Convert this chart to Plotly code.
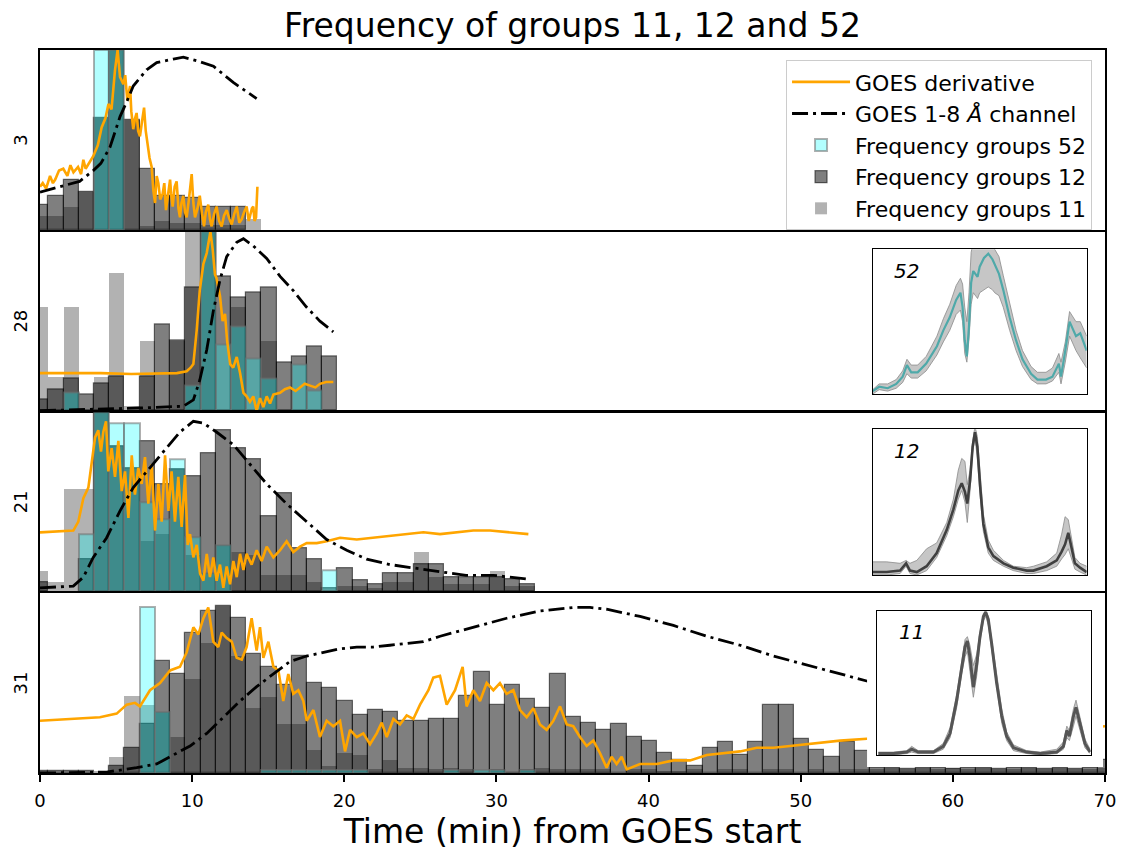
import numpy as np
import plotly.graph_objects as go

FONT = "DejaVu Sans"

# ---------------- histogram data (1-minute bins, bin k spans k-0.45 .. k+0.55 min) -------------
BIN_START = -0.45
BIN_WIDTH = 1.0

# panel "3"
p1_g11 = [0.08, 0.08, 0.13, 0.21, 0.62, 1.0, 0.61, 0.02, 0.05, 0.04, 0.04, 0.03, 0.03, 0.03, 0.06]
p1_g12 = [0.14, 0.19, 0.28, 0.21, 0.62, 1.0, 0.61, 0.34, 0.19, 0.19, 0.18, 0.13, 0.13, 0.13, None]
p1_g52 = [None, None, None, None, 1.0, 1.0, None, None, None, None, None, None, None, None, None]

# panel "28"
p2_g11 = [0.58, 0.19, 0.58, None, 0.19, 0.77, 0.03, 0.39, None, 0.39,
          1.0, 1.0, None, 0.58, None, 0.39, None, None, None, None]
p2_g12 = [0.06, 0.12, 0.18, 0.09, 0.15, 0.19, None, 0.19, 0.48, 0.39,
          0.69, 1.0, 0.75, 0.63, 0.66, 0.69, 0.27, 0.30, 0.36, 0.30]
p2_g52 = [None, None, 0.10, None, None, None, None, None, None, None,
          0.14, 1.0, 0.37, 0.47, 0.29, 0.18, None, 0.26, 0.11, None]

# panel "21"
p3_g11 = [0.11, 0.05, 0.57, 0.57, 1.0, 0.81, 0.69, 0.28, 0.32, 0.68,
          0.20, 0.10, 0.26, 0.22, 0.20, 0.09, 0.09, 0.09, 0.05, None,
          0.03, 0.03, 0.02, 0.05, 0.05, 0.22, 0.08, 0.04, 0.04, 0.04,
          0.11, 0.03, 0.03]
p3_g12 = [0.05, None, None, 0.18, 1.0, 0.81, 0.69, 0.84, 0.60, 0.68,
          0.64, 0.77, 0.90, 0.80, 0.74, 0.42, 0.55, 0.24, 0.18, 0.02,
          0.13, 0.06, 0.04, 0.10, 0.10, 0.15, 0.15, 0.08, 0.08, 0.08,
          0.08, 0.07, 0.04]
p3_g52 = [None, None, None, 0.32, 1.0, 0.94, 0.94, 0.50, 0.40, 0.74,
          0.30, 0.10, 0.26, None, None, None, None, None, None, 0.12,
          None, None, None, None, None, None, None, None, None, None,
          None, None, None]

# panel "31"
p4_g11 = [None, None, None, None, 0.01, 0.09, 0.43, 0.38, 0.34, 0.20,
          0.52, 0.72, 0.93, 0.65, 0.36, 0.42, 0.27, 0.27, 0.13, 0.04,
          0.11, 0.10, 0.02, 0.07, 0.03, 0.03, 0.02, 0.03, 0.02, None,
          0.02, None, 0.02, 0.03, 0.02, 0.02, 0.02, 0.02, None, 0.02,
          0.02, 0.01, 0.01, 0.02, None, 0.02, 0.02, None, 0.02, 0.02,
          None, 0.02, None, 0.02, 0.02, 0.02, 0.03, 0.02, 0.03, 0.02,
          0.03, 0.02, 0.03, 0.02, 0.02, 0.03, 0.02, 0.03, 0.02, 0.02,
          0.03]
p4_g12 = [0.01, 0.01, 0.01, 0.01, None, 0.04, 0.14, 0.27, 0.62, 0.55,
          0.78, 0.90, 0.93, 0.86, 0.66, 0.59, 0.49, 0.65, 0.50, 0.47,
          0.40, 0.32, 0.35, 0.34, 0.29, 0.29, 0.30, 0.30, 0.43, 0.56,
          0.38, 0.49, 0.41, 0.36, 0.55, 0.31, 0.28, 0.24, 0.27, 0.20,
          0.18, 0.11, 0.07, 0.04, 0.14, 0.17, 0.10, 0.17, 0.38, 0.38,
          0.19, 0.13, 0.09, 0.17, 0.12, 0.03, 0.03, 0.02, 0.03, 0.03,
          0.02, 0.03, 0.03, 0.02, 0.03, 0.03, 0.02, 0.03, 0.02, 0.03,
          0.07]
p4_g52 = [None, None, None, None, None, None, None, 0.92, 0.34, None,
          None, None, None, None, None, 0.015, 0.015, 0.015, 0.015, 0.015,
          0.015, 0.015, None, None, None, None, None, 0.015, None, 0.015,
          0.015, None, 0.015, None, None, None, None, None, None, None,
          None, None, None, None, None, None, None, None, None, None,
          None, None, None, None, None, None, None, None, None, None,
          None, None, None, None, None, None, None, None, None, None,
          None]

# ---------------- GOES curves (normalised per panel) ----------------
p1_deriv_t = [0.0, 0.18, 0.4, 0.66, 0.85, 1.0, 1.25, 1.53, 1.8, 2.0, 2.2, 2.5, 2.7, 2.85, 3.0, 3.2, 3.5,
              3.8, 4.05, 4.3, 4.5, 4.7, 4.93, 5.1, 5.26, 5.48, 5.6, 5.74, 5.92, 6.0, 6.13, 6.25, 6.35,
              6.45, 6.57, 6.7, 6.84, 6.95, 7.05, 7.2, 7.34, 7.45, 7.56, 7.67, 7.78, 7.9, 8.06, 8.17,
              8.28, 8.4, 8.55, 8.62, 8.72, 8.85, 8.98, 9.1, 9.2, 9.3, 9.42, 9.53, 9.64, 9.8, 9.97,
              10.08, 10.19, 10.35, 10.5, 10.65, 10.78, 10.9, 11.06, 11.17, 11.28, 11.45, 11.6, 11.77,
              11.94, 12.1, 12.27, 12.45, 12.6, 12.77, 12.93, 13.1, 13.26, 13.42, 13.58, 13.72, 13.85,
              13.93, 14.02, 14.1, 14.2, 14.29]
p1_deriv_v = [0.24, 0.26, 0.23, 0.30, 0.26, 0.28, 0.33, 0.34, 0.30, 0.36, 0.32, 0.35, 0.31, 0.39, 0.34,
              0.37, 0.41, 0.47, 0.57, 0.62, 0.70, 0.67, 0.89, 1.0, 0.85, 0.81, 0.86, 0.72, 0.80, 0.66,
              0.56, 0.62, 0.65, 0.55, 0.52, 0.60, 0.68, 0.55, 0.48, 0.40, 0.35, 0.22, 0.15, 0.30, 0.26,
              0.17, 0.20, 0.26, 0.11, 0.19, 0.28, 0.20, 0.13, 0.24, 0.27, 0.12, 0.07, 0.15, 0.19, 0.10,
              0.07, 0.18, 0.31, 0.15, 0.07, 0.12, 0.19, 0.09, 0.02, 0.10, 0.14, 0.06, 0.02, 0.09, 0.13,
              0.05, 0.02, 0.08, 0.11, 0.06, 0.03, 0.09, 0.13, 0.04, 0.06, 0.10, 0.13, 0.05, 0.09, 0.12,
              0.13, 0.05, 0.07, 0.24]
p1_flux_t = [0, 1.3, 2.6, 3.5, 4.0, 4.6, 5.26, 5.74, 6.13, 7.01, 7.67, 8.76, 9.42, 10.3, 11.4, 12.7, 14.24]
p1_flux_v = [0.21, 0.24, 0.27, 0.33, 0.37, 0.46, 0.63, 0.72, 0.80, 0.89, 0.93, 0.95, 0.96, 0.94, 0.91,
             0.82, 0.73]

p2_deriv_t = [0, 2, 4, 6, 8, 9.0, 9.64, 9.9, 10.08, 10.3, 10.5, 10.74, 10.96, 11.06, 11.2, 11.35, 11.5,
              11.6, 11.83, 12.0, 12.16, 12.3, 12.5, 12.7, 12.93, 13.15, 13.37, 13.58, 13.8, 14.02,
              14.24, 14.46, 14.68, 14.9, 15.12, 15.34, 15.78, 16.1, 16.43, 16.8, 17.09, 17.4, 17.75,
              18.1, 18.4, 18.8, 19.28]
p2_deriv_v = [0.21, 0.21, 0.21, 0.205, 0.21, 0.21, 0.22, 0.24, 0.26, 0.45, 0.67, 0.82, 0.88, 0.94, 1.0,
              0.90, 0.76, 0.74, 0.64, 0.50, 0.54, 0.39, 0.26, 0.24, 0.30, 0.21, 0.10, 0.08, 0.05, 0.08,
              0.0, 0.07, 0.02, 0.08, 0.04, 0.09, 0.10, 0.12, 0.13, 0.11, 0.13, 0.15, 0.14, 0.13, 0.15,
              0.16, 0.16]
p2_flux_t = [0, 3, 6.57, 9.42, 10.08, 10.5, 10.96, 11.4, 11.83, 12.27, 12.93, 13.37, 14.02, 14.9, 15.78,
             16.65, 17.5, 18.4, 19.28]
p2_flux_v = [0.0, 0.005, 0.015, 0.025, 0.06, 0.17, 0.34, 0.56, 0.73, 0.86, 0.94, 0.96, 0.92, 0.85, 0.75,
             0.67, 0.58, 0.50, 0.44]

p3_deriv_t = [0, 2.19, 2.52, 2.85, 3.18, 3.40, 3.62, 3.83, 4.01, 4.16, 4.34, 4.49, 4.71, 4.93, 5.15,
              5.37, 5.59, 5.81, 6.03, 6.24, 6.46, 6.68, 6.90, 7.12, 7.34, 7.56, 7.78, 8.00, 8.22, 8.44,
              8.65, 8.87, 9.09, 9.31, 9.53, 9.71, 9.86, 10.08, 10.30, 10.52, 10.74, 10.96, 11.17, 11.39,
              11.61, 11.83, 12.05, 12.27, 12.49, 12.71, 12.93, 13.15, 13.37, 13.58, 13.91, 14.24, 14.57,
              14.90, 15.34, 15.78, 16.21, 16.65, 17.09, 17.53, 18.19, 18.84, 19.72, 20.82, 21.91, 23.01,
              24.10, 25.20, 26.29, 27.39, 28.48, 29.58, 30.67, 32.10]
p3_deriv_v = [0.33, 0.34, 0.39, 0.52, 0.58, 0.73, 0.86, 0.90, 0.78, 0.89, 0.95, 0.67, 0.80, 0.64, 0.84,
              0.56, 0.67, 0.41, 0.76, 0.54, 0.69, 0.60, 0.75, 0.49, 0.71, 0.34, 0.60, 0.39, 0.76, 0.45,
              0.67, 0.39, 0.64, 0.36, 0.65, 0.26, 0.32, 0.19, 0.26, 0.10, 0.06, 0.21, 0.08, 0.19, 0.06,
              0.15, 0.02, 0.14, 0.04, 0.17, 0.08, 0.21, 0.12, 0.21, 0.15, 0.23, 0.17, 0.25, 0.19, 0.23,
              0.28, 0.22, 0.25, 0.27, 0.27, 0.28, 0.30, 0.29, 0.30, 0.31, 0.32, 0.33, 0.32, 0.33, 0.34,
              0.34, 0.33, 0.32]
p3_flux_t = [0, 2.19, 2.85, 3.5, 4.38, 5.26, 6.13, 7.23, 8.33, 9.2, 10.08, 10.74, 11.6, 12.7, 13.8, 14.9,
             16.2, 17.53, 18.84, 20.16, 21.47, 23.0, 24.5, 26.3, 28.0, 29.8, 32.0]
p3_flux_v = [0.02, 0.03, 0.08, 0.19, 0.30, 0.45, 0.58, 0.69, 0.80, 0.89, 0.95, 0.94, 0.89, 0.82, 0.71,
             0.60, 0.49, 0.39, 0.29, 0.23, 0.18, 0.15, 0.13, 0.11, 0.09, 0.09, 0.07]

p4_deriv_t = [0, 1.97, 3.94, 5.04, 5.70, 6.24, 6.57, 7.23, 7.89, 8.55, 9.20, 9.64, 10.08, 10.41, 10.74,
              11.06, 11.39, 11.72, 11.94, 12.27, 12.60, 12.93, 13.26, 13.58, 13.91, 14.24, 14.46, 14.68,
              15.01, 15.34, 15.67, 15.99, 16.32, 16.65, 16.98, 17.31, 17.53, 17.97, 18.40, 18.84, 19.28,
              19.72, 20.05, 20.38, 20.82, 21.25, 21.69, 22.13, 22.46, 22.79, 23.23, 23.66, 24.10, 24.54,
              24.98, 25.53, 25.85, 26.29, 26.73, 27.28, 27.78, 28.04, 28.48, 28.92, 29.36, 29.80, 30.23,
              30.67, 31.11, 31.55, 31.99, 32.43, 32.86, 33.30, 33.74, 34.18, 34.62, 35.05, 35.49, 35.93,
              36.37, 36.81, 37.24, 37.57, 37.90, 38.23, 38.56, 39.44, 40.54, 41.63, 42.73, 43.83, 44.92,
              46.02, 47.11, 48.21, 49.30, 50.40, 51.50, 52.59, 54.35, 58.0, 62.0, 66.0, 70.0]
p4_deriv_v = [0.29, 0.30, 0.31, 0.33, 0.38, 0.39, 0.37, 0.46, 0.50, 0.57, 0.59, 0.67, 0.81, 0.77, 0.86,
              0.92, 0.73, 0.70, 0.78, 0.75, 0.73, 0.64, 0.63, 0.70, 0.86, 0.68, 0.81, 0.64, 0.73, 0.59,
              0.57, 0.40, 0.55, 0.44, 0.46, 0.40, 0.29, 0.35, 0.20, 0.29, 0.26, 0.29, 0.12, 0.24, 0.20,
              0.22, 0.16, 0.22, 0.28, 0.20, 0.30, 0.27, 0.32, 0.30, 0.38, 0.46, 0.53, 0.54, 0.38, 0.46,
              0.59, 0.37, 0.46, 0.40, 0.50, 0.46, 0.50, 0.44, 0.46, 0.35, 0.31, 0.36, 0.27, 0.24, 0.29,
              0.37, 0.27, 0.26, 0.20, 0.15, 0.18, 0.11, 0.03, 0.09, 0.05, 0.09, 0.02, 0.05, 0.05, 0.07,
              0.07, 0.10, 0.11, 0.12, 0.14, 0.14, 0.15, 0.16, 0.17, 0.18, 0.19, 0.21, 0.22, 0.24, 0.26]
p4_flux_t = [0, 4.38, 6.35, 7.67, 8.76, 9.86, 10.96, 12.05, 13.15, 14.24, 15.34, 16.43, 17.53, 18.62,
             19.72, 20.82, 21.9, 23.0, 24.1, 25.2, 26.3, 27.6, 28.48, 30.67, 32.86, 35.05, 36.15, 37.24,
             39.44, 41.63, 43.83, 46.02, 48.21, 50.4, 52.6, 54.4, 58.0, 62.0]
p4_flux_v = [0.0, 0.005, 0.03, 0.05, 0.10, 0.15, 0.22, 0.31, 0.40, 0.48, 0.55, 0.62, 0.65, 0.67, 0.69,
             0.70, 0.70, 0.71, 0.72, 0.73, 0.76, 0.79, 0.81, 0.86, 0.90, 0.92, 0.92, 0.91, 0.87, 0.82,
             0.76, 0.71, 0.65, 0.60, 0.55, 0.51, 0.45, 0.39]

panel_labels = ["3", "28", "21", "31"]

# ---------------- inset spectra (normalised intensity vs channel) ----------------
ins52_x = [0, 3, 7, 11, 14, 16, 18, 21, 25, 30, 33, 36, 39, 41, 42, 43, 44, 45, 46, 47, 49, 50, 52, 54,
           56, 57, 59, 61, 64, 67, 70, 74, 77, 81, 84, 87, 88, 90, 92, 95, 97, 100]
ins52_mean = [0.02, 0.05, 0.04, 0.07, 0.12, 0.20, 0.15, 0.15, 0.21, 0.33, 0.44, 0.53, 0.65, 0.70, 0.60,
              0.37, 0.26, 0.47, 0.77, 0.85, 0.81, 0.88, 0.94, 0.97, 0.93, 0.90, 0.83, 0.72, 0.53, 0.37,
              0.24, 0.14, 0.10, 0.10, 0.12, 0.21, 0.12, 0.30, 0.50, 0.40, 0.42, 0.30]
ins52_hi = [0.03, 0.07, 0.07, 0.10, 0.16, 0.24, 0.20, 0.20, 0.26, 0.40, 0.52, 0.62, 0.75, 0.80, 0.76,
            0.60, 0.50, 0.70, 0.98, 1.05, 1.05, 1.05, 1.05, 1.05, 1.05, 1.0, 0.95, 0.82, 0.62, 0.44,
            0.30, 0.19, 0.15, 0.15, 0.18, 0.28, 0.22, 0.36, 0.57, 0.50, 0.50, 0.40]
ins52_lo = [0.0, 0.03, 0.02, 0.04, 0.08, 0.14, 0.11, 0.11, 0.16, 0.27, 0.36, 0.44, 0.55, 0.58, 0.50,
            0.28, 0.22, 0.38, 0.62, 0.70, 0.66, 0.70, 0.72, 0.74, 0.72, 0.70, 0.68, 0.60, 0.44, 0.30,
            0.19, 0.10, 0.07, 0.07, 0.09, 0.15, 0.07, 0.22, 0.40, 0.30, 0.25, 0.18]

ins12_x = [0, 6.5, 12.8, 15.6, 17.4, 20.6, 25.2, 29.9, 34.6, 37.7, 40.0, 41.6, 43.1, 44.2, 45.5, 46.7,
           47.8, 48.9, 50.2, 51.7, 54.0, 56.4, 61.1, 65.7, 72.0, 75.1, 81.3, 86.0, 88.3, 89.9, 91.4,
           93.0, 94.5, 96.9, 100]
ins12_mean = [0.02, 0.02, 0.03, 0.08, 0.03, 0.02, 0.06, 0.15, 0.31, 0.45, 0.58, 0.63, 0.57, 0.49, 0.65,
              0.88, 0.98, 0.88, 0.61, 0.35, 0.19, 0.13, 0.08, 0.05, 0.03, 0.03, 0.06, 0.10, 0.16, 0.21,
              0.29, 0.17, 0.08, 0.05, 0.02]
ins12_hi = [0.09, 0.09, 0.08, 0.10, 0.08, 0.10, 0.18, 0.22, 0.36, 0.52, 0.72, 0.80, 0.78, 0.62, 0.72,
            0.92, 1.02, 0.95, 0.70, 0.42, 0.24, 0.17, 0.10, 0.06, 0.05, 0.06, 0.09, 0.15, 0.28, 0.40,
            0.38, 0.25, 0.12, 0.08, 0.06]
ins12_lo = [0.0, 0.0, 0.01, 0.06, 0.01, 0.0, 0.03, 0.12, 0.27, 0.40, 0.52, 0.58, 0.50, 0.36, 0.58, 0.84,
            0.94, 0.80, 0.54, 0.30, 0.15, 0.10, 0.06, 0.03, 0.01, 0.01, 0.03, 0.06, 0.11, 0.14, 0.18,
            0.10, 0.04, 0.02, 0.0]

ins11_x = [0.5, 7.5, 13.8, 16.1, 19.2, 26.3, 30.9, 34.1, 37.2, 39.5, 41.1, 42.2, 43.4, 45.0, 46.6, 48.1,
           49.7, 50.8, 52.0, 53.6, 55.9, 58.3, 60.6, 63.8, 70.0, 76.3, 84.1, 87.2, 88.8, 90.0, 91.9,
           93.1, 95.0, 97.3, 99.7]
ins11_mean = [0.01, 0.01, 0.02, 0.04, 0.02, 0.02, 0.06, 0.15, 0.38, 0.61, 0.75, 0.79, 0.68, 0.47, 0.63,
              0.82, 0.96, 0.99, 0.94, 0.77, 0.50, 0.27, 0.13, 0.05, 0.02, 0.01, 0.02, 0.06, 0.17, 0.13,
              0.27, 0.33, 0.22, 0.08, 0.02]
ins11_hi = [0.02, 0.02, 0.03, 0.06, 0.03, 0.03, 0.08, 0.19, 0.42, 0.65, 0.80, 0.82, 0.76, 0.62, 0.70,
            0.85, 0.98, 1.0, 0.96, 0.80, 0.55, 0.32, 0.16, 0.07, 0.03, 0.02, 0.04, 0.09, 0.20, 0.17,
            0.32, 0.38, 0.26, 0.11, 0.04]
ins11_lo = [0.0, 0.0, 0.01, 0.02, 0.01, 0.01, 0.04, 0.12, 0.33, 0.56, 0.68, 0.72, 0.58, 0.40, 0.55, 0.78,
            0.93, 0.96, 0.90, 0.72, 0.45, 0.22, 0.10, 0.03, 0.01, 0.0, 0.01, 0.04, 0.12, 0.10, 0.20,
            0.27, 0.17, 0.05, 0.01]

# ---------------- styling ----------------
C11 = "rgba(0,0,0,0.3)"
C12 = "rgba(0,0,0,0.5)"
C52 = "rgba(0,255,255,0.3)"
ORANGE = "#FFA500"
DASHDOT = "16px,5px,3px,5px"
LW = 1.6

panels = [
    (p1_g11, p1_g12, p1_g52, p1_deriv_t, p1_deriv_v, p1_flux_t, p1_flux_v),
    (p2_g11, p2_g12, p2_g52, p2_deriv_t, p2_deriv_v, p2_flux_t, p2_flux_v),
    (p3_g11, p3_g12, p3_g52, p3_deriv_t, p3_deriv_v, p3_flux_t, p3_flux_v),
    (p4_g11, p4_g12, p4_g52, p4_deriv_t, p4_deriv_v, p4_flux_t, p4_flux_v),
]

fig = go.Figure()
for i, (g11, g12, g52, dt, dv, ft, fv) in enumerate(panels):
    xa = "x" if i == 0 else f"x{i+1}"
    ya = "y" if i == 0 else f"y{i+1}"
    centres = BIN_START + BIN_WIDTH / 2 + np.arange(len(g12)) * BIN_WIDTH
    first = (i == 0)
    fig.add_trace(go.Bar(x=centres, y=g11, width=BIN_WIDTH, xaxis=xa, yaxis=ya,
                         marker=dict(color=C11, line=dict(width=0)),
                         name="Frequency groups 11", legendrank=5, showlegend=first))
    fig.add_trace(go.Bar(x=centres, y=g12, width=BIN_WIDTH, xaxis=xa, yaxis=ya,
                         marker=dict(color=C12, line=dict(color="rgba(0,0,0,0.55)", width=1.2)),
                         name="Frequency groups 12", legendrank=4, showlegend=first))
    fig.add_trace(go.Bar(x=centres, y=g52, width=BIN_WIDTH, xaxis=xa, yaxis=ya,
                         marker=dict(color=C52, line=dict(color="rgba(110,110,110,0.55)", width=2)),
                         name="Frequency groups 52", legendrank=3, showlegend=first))
    fig.add_trace(go.Scatter(x=dt, y=dv, mode="lines", xaxis=xa, yaxis=ya,
                             line=dict(color=ORANGE, width=2.6),
                             name="GOES derivative", legendrank=1, showlegend=first))
    fig.add_trace(go.Scatter(x=ft, y=fv, mode="lines", xaxis=xa, yaxis=ya,
                             line=dict(color="black", width=2.8, dash=DASHDOT),
                             name="GOES 1-8 <i>Å</i> channel", legendrank=2, showlegend=first))

# white backing patch behind the bottom inset (inset bbox incl. padding)
fig.add_trace(go.Scatter(x=[54.36, 69.87, 69.87, 54.36, 54.36], y=[0.033, 0.033, 0.995, 0.995, 0.033],
                         mode="lines", fill="toself", fillcolor="white", line=dict(width=0),
                         xaxis="x4", yaxis="y4", showlegend=False, hoverinfo="skip"))

insets = [
    ("x5", "y5", ins52_x, ins52_hi, ins52_lo, ins52_mean, "#4fa9a9", 2.2),
    ("x6", "y6", ins12_x, ins12_hi, ins12_lo, ins12_mean, "#404040", 2.6),
    ("x7", "y7", ins11_x, ins11_hi, ins11_lo, ins11_mean, "#555555", 3.0),
]
for xa, ya, sx, hi, lo, mean, col, w in insets:
    fig.add_trace(go.Scatter(x=sx, y=hi, mode="lines", xaxis=xa, yaxis=ya,
                             line=dict(color="#8a8a8a", width=0.8), showlegend=False))
    fig.add_trace(go.Scatter(x=sx, y=lo, mode="lines", xaxis=xa, yaxis=ya, fill="tonexty",
                             fillcolor="rgba(128,128,128,0.45)",
                             line=dict(color="#8a8a8a", width=0.8), showlegend=False))
    fig.add_trace(go.Scatter(x=sx, y=mean, mode="lines", xaxis=xa, yaxis=ya,
                             line=dict(color=col, width=w), showlegend=False))

frame = dict(showline=True, linecolor="black", linewidth=LW, mirror=True,
             showgrid=False, zeroline=False, automargin=False)
# small gap between stacked panels so that neighbouring frame lines coincide
gap = (LW / 2) / 723
ydomains = [[0.75 + gap, 1.0], [0.5 + gap, 0.75 - gap], [0.25 + gap, 0.5 - gap], [0.0, 0.25 - gap]]
layout = dict(
    width=1124, height=855,
    margin=dict(l=40, r=19, t=50, b=82),
    paper_bgcolor="white", plot_bgcolor="white",
    barmode="overlay", bargap=0,
    font=dict(family=FONT, color="black"),
    title=dict(text="Frequency of groups 11, 12 and 52", x=0.5, xref="paper", xanchor="center",
               y=1 - 25 / 855, yref="container", yanchor="middle", font=dict(size=33)),
    legend=dict(x=0.7005, y=0.986, xanchor="left", yanchor="top", font=dict(size=22),
                bgcolor="rgba(255,255,255,0.85)", bordercolor="#cccccc", borderwidth=1,
                traceorder="normal", itemwidth=58),
    showlegend=True,
)
for i in range(4):
    xk = "xaxis" if i == 0 else f"xaxis{i+1}"
    yk = "yaxis" if i == 0 else f"yaxis{i+1}"
    xa = "x" if i == 0 else f"x{i+1}"
    ya = "y" if i == 0 else f"y{i+1}"
    xd = dict(frame, range=[0, 70], domain=[0, 1], anchor=ya)
    if i == 3:
        xd.update(ticks="outside", ticklen=7, tickwidth=1.5, tickcolor="black",
                  tickvals=[0, 10, 20, 30, 40, 50, 60, 70], tickfont=dict(size=18),
                  ticklabelstandoff=4,
                  title=dict(text="Time (min) from GOES start", font=dict(size=33), standoff=9))
    else:
        xd.update(showticklabels=False, ticks="")
    layout[xk] = xd
    layout[yk] = dict(frame, range=[0, 1.0], domain=ydomains[i], anchor=xa, ticks="",
                      showticklabels=False,
                      title=dict(text=panel_labels[i], font=dict(size=18), standoff=6))

inset_dom = [
    ([0.7819, 0.9828], [0.5242, 0.7243]),
    ([0.7819, 0.9828], [0.2739, 0.4754]),
    ([0.7862, 0.9866], [0.0249, 0.2245]),
]
for j, (xdm, ydm) in enumerate(inset_dom):
    n = 5 + j
    layout[f"xaxis{n}"] = dict(showline=True, linecolor="black", linewidth=1.3, mirror=True,
                               showgrid=False, zeroline=False, ticks="", showticklabels=False,
                               automargin=False, range=[0, 100], domain=xdm, anchor=f"y{n}")
    layout[f"yaxis{n}"] = dict(showline=True, linecolor="black", linewidth=1.3, mirror=True,
                               showgrid=False, zeroline=False, ticks="", showticklabels=False,
                               automargin=False, range=[0, 1.0], domain=ydm, anchor=f"x{n}")

fig.update_layout(**layout)

for j, lab in enumerate(["52", "12", "11"]):
    n = 5 + j
    fig.add_annotation(text=f"<i>{lab}</i>", xref=f"x{n} domain", yref=f"y{n} domain",
                       x=0.16, y=0.85, xanchor="center", yanchor="middle", showarrow=False,
                       font=dict(size=20, color="black"))

fig.write_html("out.html")
